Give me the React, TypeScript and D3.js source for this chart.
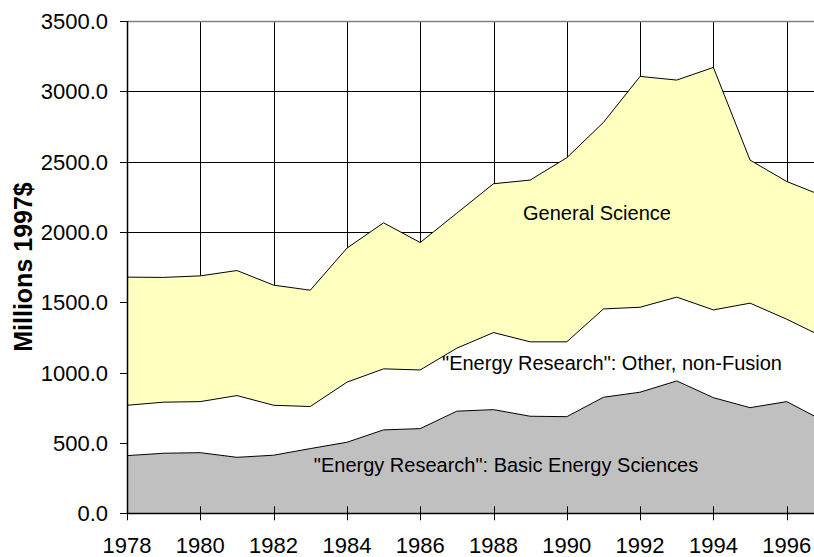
import React from "react";
import * as d3 from "d3";

const years = [1978,1979,1980,1981,1982,1983,1984,1985,1986,1987,1988,1989,1990,1991,1992,1993,1994,1995,1996,1997];
const basicEnergySciences = [410,427,431,398,413,460,505,593,602,726,737,690,687,825,861,941,822,751,794,658];
const otherNonFusion = [358,363,363,439,355,299,427,434,417,448,548,529,532,628,604,596,624,743,586,595];
const generalScience = [911,887,894,889,854,827,953,1038,906,960,1058,1150,1309,1326,1641,1543,1724,1017,979,1002];
const xTicks = [1978,1980,1982,1984,1986,1988,1990,1992,1994,1996];
const yTicks = [0,500,1000,1500,2000,2500,3000,3500];
const seriesKeys = ["bes", "other", "general"];
const seriesColors = ["#C0C0C0", "#FFFFFF", "#FFFFC0"];

const W = 814, H = 557;
const FONT = "'Liberation Sans', Arial, sans-serif";

export default function App() {
  const x = d3.scaleLinear().domain([1978, 1996]).range([127, 786.7]);
  const y = d3.scaleLinear().domain([0, 3500]).range([513.3, 21]);
  const rows = years.map((yr, i) => ({
    year: yr,
    bes: basicEnergySciences[i],
    other: otherNonFusion[i],
    general: generalScience[i],
  }));
  const stack = d3.stack<any>().keys(seriesKeys)(rows);
  const area = d3.area<any>()
    .x((d) => x(d.data.year))
    .y0((d) => y(d[0]))
    .y1((d) => y(d[1]));
  const topLine = d3.line<any>()
    .x((d) => x(d.data.year))
    .y((d) => y(d[1]));
  const x0 = 127, xR = 830, yB = y(0), yT = y(3500);

  return (
    <div style={{ position: "absolute", left: 0, top: 0, width: W, height: H, overflow: "hidden", background: "#fff" }}>
      <svg width={W} height={H} style={{ display: "block" }} fontFamily={FONT}>
        {/* gridlines */}
        {yTicks.map((t) => (
          <line key={"gy" + t} x1={x0} x2={xR} y1={Math.round(y(t)) + 0.5} y2={Math.round(y(t)) + 0.5} stroke="#000" strokeWidth={1} />
        ))}
        {xTicks.map((t) => (
          <line key={"gx" + t} x1={Math.round(x(t)) + 0.5} x2={Math.round(x(t)) + 0.5} y1={yT} y2={yB} stroke="#000" strokeWidth={1} />
        ))}
        <line x1={x0} x2={xR} y1={Math.round(yT) + 0.5} y2={Math.round(yT) + 0.5} stroke="#808080" strokeWidth={1.5} />
        {/* areas */}
        {stack.map((s, i) => (
          <path key={"a" + i} d={area(s) || ""} fill={seriesColors[i]} stroke="none" />
        ))}
        {stack.map((s, i) => (
          <path key={"l" + i} d={topLine(s) || ""} fill="none" stroke="#000" strokeWidth={1} />
        ))}
        {/* axes */}
        <line x1={x0 + 0.5} x2={x0 + 0.5} y1={yT} y2={yB} stroke="#000" strokeWidth={1.5} />
        <line x1={x0} x2={xR} y1={Math.round(yB) + 0.5} y2={Math.round(yB) + 0.5} stroke="#000" strokeWidth={1.5} />
        {yTicks.map((t) => (
          <g key={"ty" + t}>
            <line x1={120} x2={x0} y1={Math.round(y(t)) + 0.5} y2={Math.round(y(t)) + 0.5} stroke="#000" strokeWidth={1} />
            <text x={108} y={y(t)} dy="0.36em" textAnchor="end" fontSize={22} fill="#000">{t.toFixed(1)}</text>
          </g>
        ))}
        {xTicks.map((t) => (
          <g key={"tx" + t}>
            <line x1={Math.round(x(t)) + 0.5} x2={Math.round(x(t)) + 0.5} y1={yB - 7} y2={yB + 7} stroke="#000" strokeWidth={1} />
            <text x={x(t)} y={553} textAnchor="middle" fontSize={22} fill="#000">{t}</text>
          </g>
        ))}
        <text transform="translate(32,267) rotate(-90)" textAnchor="middle" fontSize={25} fontWeight="bold" fill="#000">Millions 1997$</text>
        {/* annotations */}
        <text x={597} y={220} textAnchor="middle" fontSize={20} fill="#000">General Science</text>
        <text x={612} y={370} textAnchor="middle" fontSize={20} fill="#000">"Energy Research": Other, non-Fusion</text>
        <text x={506} y={472} textAnchor="middle" fontSize={20} fill="#000">"Energy Research": Basic Energy Sciences</text>
      </svg>
    </div>
  );
}
